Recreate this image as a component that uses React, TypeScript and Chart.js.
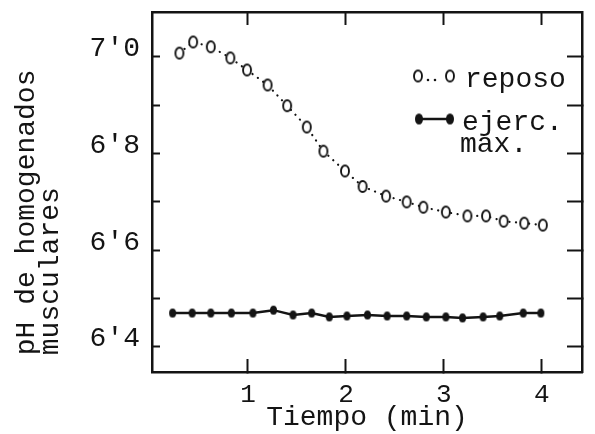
import React, { useEffect, useRef } from 'react';
import { Chart, registerables } from 'chart.js';

Chart.register(...registerables);

// ---- data ----
const reposoTime = [0.30, 0.44, 0.62, 0.82, 0.99, 1.20, 1.40, 1.60, 1.77, 1.99, 2.17, 2.41, 2.62, 2.79, 3.02, 3.24, 3.43, 3.61, 3.82, 4.01];
const reposoPH = [7.008, 7.031, 7.021, 6.998, 6.973, 6.942, 6.899, 6.855, 6.805, 6.764, 6.732, 6.712, 6.700, 6.689, 6.679, 6.671, 6.671, 6.660, 6.656, 6.652];
const ejercTime = [0.23, 0.43, 0.62, 0.83, 1.05, 1.26, 1.46, 1.65, 1.83, 2.01, 2.22, 2.42, 2.62, 2.82, 3.02, 3.19, 3.40, 3.57, 3.81, 3.99];
const ejercPH = [6.470, 6.470, 6.470, 6.470, 6.470, 6.476, 6.466, 6.470, 6.462, 6.464, 6.466, 6.464, 6.464, 6.462, 6.462, 6.460, 6.462, 6.464, 6.470, 6.470];

const xTickValues = [1, 2, 3, 4];
const yTickValues = [6.4, 6.5, 6.6, 6.7, 6.8, 6.9, 7.0];
const yLabelValues = [6.4, 6.6, 6.8, 7.0];
const xTitle = 'Tiempo (min)';
const yTitle = ['pH de homogenados', 'musculares'];
const legendReposo = 'reposo';
const legendEjerc = ['ejerc.', 'max.'];

const FONT = '"Liberation Mono", "Courier New", monospace';
const INK = '#141414';

function makeEllipse(w: number, h: number, filled: boolean) {
  const c = document.createElement('canvas');
  c.width = w + 4;
  c.height = h + 4;
  const g = c.getContext('2d')!;
  g.beginPath();
  g.ellipse((w + 4) / 2, (h + 4) / 2, w / 2, h / 2, 0, 0, Math.PI * 2);
  if (filled) {
    g.fillStyle = INK;
    g.fill();
  } else {
    g.fillStyle = '#fff';
    g.fill();
    g.lineWidth = 1.9;
    g.strokeStyle = INK;
    g.stroke();
  }
  return c;
}

const fmt = (v: number) => v.toFixed(1).replace('.', "'");

export default function App() {
  const ref = useRef<HTMLCanvasElement | null>(null);

  useEffect(() => {
    const canvas = ref.current!;
    const openPt = makeEllipse(8, 11, false);
    const fullPt = makeEllipse(7, 9, true);
    const legendOpen = makeEllipse(8, 11, false);
    const legendFull = makeEllipse(8, 11, true);

    const decor = {
      id: 'decor',
      beforeDraw(chart: any) {
        const ctx = chart.ctx;
        ctx.save();
        ctx.fillStyle = '#fff';
        ctx.fillRect(0, 0, chart.width, chart.height);
        ctx.restore();
      },
      afterDraw(chart: any) {
        const ctx = chart.ctx;
        ctx.save();
        ctx.fillStyle = INK;
        ctx.strokeStyle = INK;
        ctx.font = `28px ${FONT}`;
        ctx.textBaseline = 'alphabetic';
        ctx.textAlign = 'left';
        // reposo legend entry
        ctx.drawImage(legendOpen, 418 - legendOpen.width / 2, 76 - legendOpen.height / 2);
        ctx.drawImage(legendOpen, 450 - legendOpen.width / 2, 76 - legendOpen.height / 2);
        ctx.beginPath();
        ctx.arc(428, 80, 1.3, 0, Math.PI * 2);
        ctx.arc(435, 80, 1.3, 0, Math.PI * 2);
        ctx.fill();
        ctx.fillText(legendReposo, 465, 87);
        // ejerc. max. legend entry
        ctx.lineWidth = 2.5;
        ctx.beginPath();
        ctx.moveTo(419, 119);
        ctx.lineTo(450, 119);
        ctx.stroke();
        ctx.drawImage(legendFull, 419 - legendFull.width / 2, 119 - legendFull.height / 2);
        ctx.drawImage(legendFull, 450 - legendFull.width / 2, 119 - legendFull.height / 2);
        ctx.fillText(legendEjerc[0], 462, 130);
        ctx.fillText(legendEjerc[1], 460, 152);
        ctx.restore();
      },
    };

    const setXTicks = (s: any) => { s.ticks = xTickValues.map((v) => ({ value: v })); };
    const setYTicks = (s: any) => { s.ticks = yTickValues.map((v) => ({ value: v })); };
    const zeroPad = (s: any) => { s.paddingTop = 0; s.paddingBottom = 0; s.paddingLeft = 0; s.paddingRight = 0; };

    const border = { display: true, width: 2.5, color: INK };
    const xMin = 0.02, xMax = 4.41, yMin = 6.348, yMax = 7.093;

    const chart = new Chart(canvas, {
      type: 'line',
      data: {
        datasets: [
          {
            label: 'reposo',
            data: reposoTime.map((t, i) => ({ x: t, y: reposoPH[i] })),
            borderColor: INK,
            borderWidth: 2.2,
            borderDash: [0.1, 6.5],
            borderCapStyle: 'round',
            pointStyle: openPt,
            pointRadius: 5,
            tension: 0,
            xAxisID: 'x',
            yAxisID: 'y',
          },
          {
            label: 'ejerc. max.',
            data: ejercTime.map((t, i) => ({ x: t, y: ejercPH[i] })),
            borderColor: INK,
            borderWidth: 2.5,
            pointStyle: fullPt,
            pointRadius: 4,
            tension: 0,
            xAxisID: 'x',
            yAxisID: 'y',
          },
        ],
      } as any,
      options: {
        responsive: false,
        animation: false,
        devicePixelRatio: 1,
        layout: { padding: 0 },
        plugins: { legend: { display: false }, tooltip: { enabled: false } },
        scales: {
          x: {
            type: 'linear',
            position: 'bottom',
            min: xMin,
            max: xMax,
            afterBuildTicks: setXTicks,
            afterFit: (s: any) => { s.height = 62; zeroPad(s); },
            ticks: { font: { family: FONT, size: 26 }, color: INK, padding: 21, maxRotation: 0, autoSkip: false, callback: (v: any) => String(v) },
            grid: { drawOnChartArea: false, drawTicks: true, tickLength: -13, tickWidth: 2, tickColor: INK },
            border,
            title: { display: true, text: xTitle, font: { family: FONT, size: 28, lineHeight: '32px' }, color: INK, padding: 0 },
          },
          x2: {
            type: 'linear',
            position: 'top',
            min: xMin,
            max: xMax,
            afterBuildTicks: setXTicks,
            afterFit: (s: any) => { s.height = 12; zeroPad(s); },
            ticks: { display: false },
            grid: { drawOnChartArea: false, drawTicks: true, tickLength: -13, tickWidth: 2, tickColor: INK },
            border,
          },
          y: {
            type: 'linear',
            position: 'left',
            min: yMin,
            max: yMax,
            afterBuildTicks: setYTicks,
            afterFit: (s: any) => { s.width = 152; zeroPad(s); },
            ticks: {
              font: { family: FONT, size: 28 },
              color: INK,
              padding: 20,
              labelOffset: -8,
              autoSkip: false,
              callback: (v: any) => (yLabelValues.some((l) => Math.abs(l - v) < 1e-6) ? fmt(v) : ''),
            },
            grid: { drawOnChartArea: false, drawTicks: true, tickLength: -8, tickWidth: 2, tickColor: INK },
            border,
            title: {
              display: true,
              text: yTitle.map((t) => ' ' + t),
              align: 'start',
              font: { family: FONT, size: 28, lineHeight: '24px' },
              color: INK,
              padding: { top: 15, bottom: 0 },
            },
          },
          y2: {
            type: 'linear',
            position: 'right',
            min: yMin,
            max: yMax,
            afterBuildTicks: setYTicks,
            afterFit: (s: any) => { s.width = 13; zeroPad(s); },
            ticks: { display: false },
            grid: { drawOnChartArea: false, drawTicks: true, tickLength: -15, tickWidth: 2, tickColor: INK },
            border,
          },
        },
      } as any,
      plugins: [decor],
    });

    return () => chart.destroy();
  }, []);

  return (
    <div style={{ position: 'absolute', left: 0, top: 0, width: 595, height: 434, background: '#fff' }}>
      <canvas ref={ref} width={595} height={434} style={{ display: 'block' }} />
    </div>
  );
}
